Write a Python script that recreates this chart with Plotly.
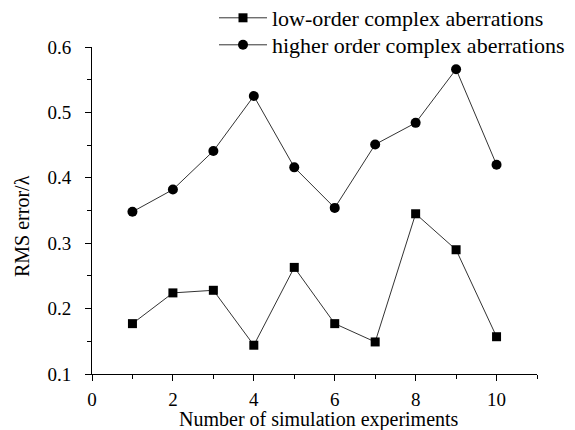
import plotly.graph_objects as go

experiments = [1, 2, 3, 4, 5, 6, 7, 8, 9, 10]
low_order = [0.177, 0.224, 0.228, 0.144, 0.263, 0.177, 0.149, 0.345, 0.290, 0.157]
high_order = [0.348, 0.382, 0.441, 0.525, 0.416, 0.354, 0.451, 0.484, 0.566, 0.420]
x_tick_vals = [0, 2, 4, 6, 8, 10]
y_tick_vals = [0.1, 0.2, 0.3, 0.4, 0.5, 0.6]

FAMILY = "Liberation Serif, Times New Roman, serif"
font = dict(family=FAMILY, size=19, color="black")
title_font = dict(family=FAMILY, size=20, color="black")
legend_font = dict(family=FAMILY, size=22, color="black")

fig = go.Figure()
fig.add_trace(go.Scatter(
    x=experiments, y=low_order, mode="lines+markers",
    name="low-order complex aberrations", legend="legend",
    line=dict(color="#333333", width=1),
    marker=dict(symbol="square", size=9, color="black"),
))
fig.add_trace(go.Scatter(
    x=experiments, y=high_order, mode="lines+markers",
    name="higher order complex aberrations", legend="legend2",
    line=dict(color="#333333", width=1),
    marker=dict(symbol="circle", size=10, color="black"),
))

leg_common = dict(xanchor="left", yanchor="middle", bgcolor="rgba(0,0,0,0)",
                  font=legend_font, itemwidth=48)

fig.update_layout(
    width=575, height=430,
    margin=dict(l=92, r=38, t=47, b=56, autoexpand=False),
    paper_bgcolor="white", plot_bgcolor="white",
    font=font,
    showlegend=True,
    legend=dict(x=(214 - 92) / 445, y=(374 - 18) / 327, **leg_common),
    legend2=dict(x=(214 - 92) / 445, y=(374 - 45) / 327, **leg_common),
    xaxis=dict(
        range=[0, 11], tickvals=x_tick_vals, ticks="outside", ticklen=6,
        tickcolor="black", showline=True, linecolor="black", linewidth=1,
        showgrid=False, zeroline=False, ticklabelstandoff=2,
        minor=dict(dtick=1, tick0=0, ticks="outside", ticklen=4, tickcolor="black"),
        tickfont=font,
    ),
    yaxis=dict(
        range=[0.1, 0.6], tickvals=y_tick_vals, ticks="outside", ticklen=6,
        tickcolor="black", showline=True, linecolor="black", linewidth=1,
        showgrid=False, zeroline=False, tickformat=".1f", ticklabelstandoff=10,
        minor=dict(dtick=0.05, tick0=0.1, ticks="outside", ticklen=4, tickcolor="black"),
        tickfont=font,
    ),
    annotations=[
        dict(
            text="RMS error/λ", textangle=-90, showarrow=False,
            xref="paper", yref="paper", x=(22 - 92) / 445, y=(374 - 226) / 327,
            xanchor="center", yanchor="middle", font=title_font,
        ),
        dict(
            text="Number of simulation experiments", showarrow=False,
            xref="paper", yref="paper", x=(319 - 92) / 445, y=(374 - 419) / 327,
            xanchor="center", yanchor="middle", font=title_font,
        ),
    ],
)

fig.write_html("out.html")
